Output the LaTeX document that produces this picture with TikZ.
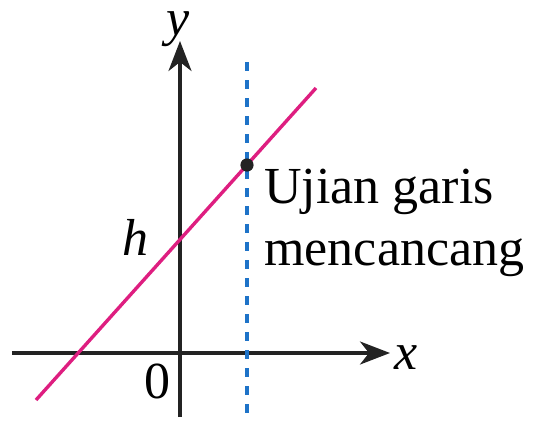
\documentclass[tikz,border=0pt]{standalone}
\usepackage{fontspec}
\setmainfont{Liberation Serif}
\usetikzlibrary{arrows.meta}
\definecolor{lnPink}{RGB}{222,30,128}
\definecolor{lnBlue}{RGB}{30,115,200}
\definecolor{lnGray}{RGB}{35,35,35}

\begin{document}
\begin{tikzpicture}[x=20pt,y=20pt,
  axis/.style={lnGray, line width=1.7pt, -{Stealth[length=15pt,width=11.5pt,inset=4.5pt]}},
  lbl/.style={inner sep=0pt, anchor=base west, font=\fontsize{26}{31}\selectfont}]
  \useasboundingbox (-4.5,-1.675) rectangle (8.9,8.825);

  % Axes
  \coordinate (O) at (0,0);
  \coordinate (xL) at (-4.2,0);
  \coordinate (xR) at (5.25,0);
  \coordinate (yB) at (0,-1.6);
  \coordinate (yT) at (0,7.8);
  \draw[axis] (xL) -- (xR);
  \draw[axis] (yB) -- (yT);
  \node[lbl] (xlab) at (5.35,-0.42) {\textit{x}};
  \node[lbl] (ylab) at (-0.35,7.95) {\textit{y}};
  \node[lbl] (zero) at (-0.9,-1.13) {0};

  % Vertical line test
  \coordinate (vB) at (1.675,-1.6);
  \coordinate (vT) at (1.675,7.275);
  \draw[lnBlue, line width=1.8pt, dash pattern=on 4.5pt off 4.5pt] (vT) -- (vB);

  % Straight line
  \coordinate (lA) at (-3.6,-1.175);
  \coordinate (lB) at (3.4,6.625);
  \draw[lnPink, line width=1.7pt] (lA) -- (lB);
  \coordinate (hpt) at (0,2.836);
  \node[lbl] (hlab) at (-1.45,2.45) {\textit{h}};

  % Intersection point
  \fill[lnGray] (1.675,4.70) circle (3.3pt);
  \node[lbl, align=left] (test) at (2.1,2.2) {Ujian garis\\mencancang};
\end{tikzpicture}
\end{document}
